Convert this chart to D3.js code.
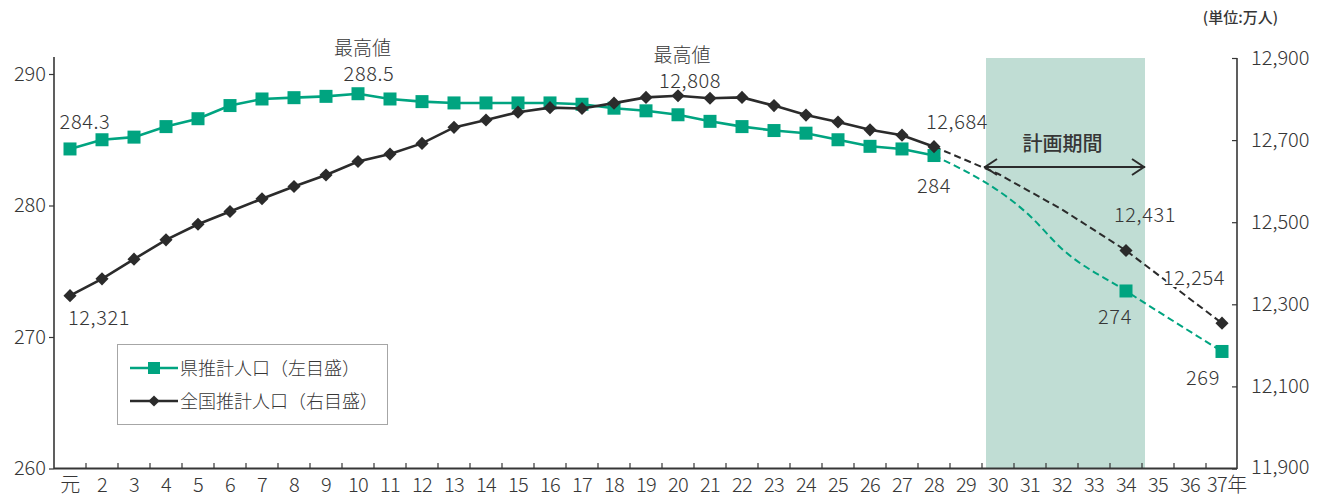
<!DOCTYPE html>
<html><head><meta charset="utf-8">
<script src="https://cdn.jsdelivr.net/npm/d3@7"></script>
<style>
body{margin:0;background:#fff;}
svg{display:block;font-family:"Noto Sans CJK JP","Noto Sans",sans-serif;font-weight:300;}
</style></head><body>
<svg id="chart" width="1335" height="497"></svg>
<script>
// ---- data ----
const categories = ["元","2","3","4","5","6","7","8","9","10","11","12","13","14","15","16","17","18","19","20","21","22","23","24","25","26","27","28","29","30","31","32","33","34","35","36","37"];
const actualCats = categories.slice(0, 28);
const prefActual = [284.3,285.0,285.2,286.0,286.6,287.6,288.1,288.2,288.3,288.5,288.1,287.9,287.8,287.8,287.8,287.8,287.7,287.4,287.2,286.9,286.4,286.0,285.7,285.5,285.0,284.5,284.3,283.8];
const natActual = [12321,12362,12410,12457,12495,12526,12557,12587,12615,12648,12666,12692,12731,12749,12768,12779,12777,12790,12804,12808,12802,12804,12784,12761,12744,12725,12712,12684];
const prefProjCats = ["28","31","32","34","37"];
const prefProj = [283.8,279.2,276.7,273.5,268.9];
const natProjCats = ["28","30","32","34","37"];
const natProj = [12684,12618,12531,12431,12254];
const projMarkerCats = ["34","37"];
const leftTicks = [260,270,280,290];
const rightTicks = [11900,12100,12300,12500,12700,12900];
const planStart = "30", planEnd = "34";
const seriesNames = ["県推計人口（左目盛）","全国推計人口（右目盛）"];

// ---- setup ----
const GREEN = "#00a480", BLACK = "#2b2b2b", SHADE = "#c0ddd4", TXT = "#363636";
const svg = d3.select("#chart");
const x = d3.scaleBand().domain(categories).range([54, 1238]).padding(0);
const bw = x.bandwidth();
const cx = c => x(c) + bw / 2;
const yL = d3.scaleLinear().domain([260, 290]).range([468.5, 74]);
const yR = d3.scaleLinear().domain([11900, 12900]).range([468.5, 58]);

// planning period shade
const shadeX0 = x(planStart) + 4;
const shadeX1 = x(planEnd) + bw + 3;
svg.append("rect").attr("x", shadeX0).attr("y", yR(12900)).attr("width", shadeX1 - shadeX0)
  .attr("height", yR(11900) - yR(12900)).attr("fill", SHADE);

// axes
const gL = svg.append("g").attr("transform", "translate(54,0)")
  .call(d3.axisLeft(yL).tickValues(leftTicks).tickSize(5).tickPadding(3).tickFormat(d3.format("d")));
gL.select(".domain").remove();
gL.selectAll(".tick line").attr("stroke", TXT).attr("stroke-width", 1.2);
gL.selectAll(".tick text").attr("font-size", 20).attr("fill", TXT).attr("font-family", "'Noto Sans CJK JP'");
svg.append("line").attr("x1", 54).attr("x2", 54).attr("y1", 57).attr("y2", 469).attr("stroke", TXT).attr("stroke-width", 1.6);

const gR = svg.append("g").attr("transform", "translate(1237,0)")
  .call(d3.axisRight(yR).tickValues(rightTicks).tickSizeInner(-5).tickSizeOuter(0).tickPadding(14).tickFormat(d3.format(",")));
gR.select(".domain").remove();
gR.selectAll(".tick line").attr("stroke", TXT).attr("stroke-width", 1.2);
gR.selectAll(".tick text").attr("font-size", 20).attr("fill", TXT).attr("font-family", "'Noto Sans CJK JP'");
gR.selectAll(".tick").filter(d => d === 11900).select("text").attr("dy", "0.25em");
svg.append("line").attr("x1", 1237).attr("x2", 1237).attr("y1", 58).attr("y2", 469).attr("stroke", TXT).attr("stroke-width", 1.6);

// x axis
svg.append("line").attr("x1", 54).attr("x2", 1237).attr("y1", 468.5).attr("y2", 468.5).attr("stroke", TXT).attr("stroke-width", 2);
svg.append("g").selectAll("line").data(categories.slice(1)).join("line")
  .attr("x1", d => x(d)).attr("x2", d => x(d)).attr("y1", 468).attr("y2", 463)
  .attr("stroke", TXT).attr("stroke-width", 1.2);
svg.append("g").selectAll("text").data(categories).join("text")
  .attr("x", (d, i) => i === categories.length - 1 ? cx(d) - 15 : cx(d))
  .attr("y", 492).attr("text-anchor", (d, i) => i === categories.length - 1 ? "start" : "middle")
  .attr("font-size", 20).attr("letter-spacing", -0.6).attr("fill", TXT)
  .text((d, i) => i === categories.length - 1 ? d + "年" : d);

// lines
const prefData = actualCats.map((c, i) => ({c, v: prefActual[i]}));
const natData = actualCats.map((c, i) => ({c, v: natActual[i]}));
const prefPD = prefProjCats.map((c, i) => ({c, v: prefProj[i]}));
const natPD = natProjCats.map((c, i) => ({c, v: natProj[i]}));

const lineL = d3.line().x(d => cx(d.c)).y(d => yL(d.v));
const lineLs = d3.line().x(d => cx(d.c)).y(d => yL(d.v)).curve(d3.curveMonotoneX);
const lineR = d3.line().x(d => cx(d.c)).y(d => yR(d.v));

svg.append("path").attr("d", lineLs(prefPD)).attr("fill", "none").attr("stroke", GREEN).attr("stroke-width", 2).attr("stroke-dasharray", "7,4");
svg.append("path").attr("d", lineR(natPD)).attr("fill", "none").attr("stroke", BLACK).attr("stroke-width", 2).attr("stroke-dasharray", "7,4");

svg.append("path").attr("d", lineL(prefData)).attr("fill", "none").attr("stroke", GREEN).attr("stroke-width", 2.6);
const sq = 13;
svg.append("g").selectAll("rect").data(prefData.concat(prefPD.filter(d => projMarkerCats.includes(d.c)))).join("rect")
  .attr("x", d => cx(d.c) - sq / 2).attr("y", d => yL(d.v) - sq / 2).attr("width", sq).attr("height", sq).attr("fill", GREEN);

svg.append("path").attr("d", lineR(natData)).attr("fill", "none").attr("stroke", BLACK).attr("stroke-width", 2.6);
const diamond = d3.symbol().type(d3.symbolDiamond2).size(110);
svg.append("g").selectAll("path").data(natData.concat(natPD.filter(d => projMarkerCats.includes(d.c)))).join("path")
  .attr("transform", d => `translate(${cx(d.c)},${yR(d.v)})`)
  .attr("d", diamond).attr("fill", BLACK);

// labels
const fmtN = d3.format(",");
const labels = [
  {t: "284.3", c: "元", v: prefActual[0], s: "L", dx: 15, dy: -20},
  {t: "288.5", c: "10", v: prefActual[9], s: "L", dx: 11, dy: -12.5},
  {t: "最高値", c: "10", v: prefActual[9], s: "L", dx: 4.5, dy: -38.5},
  {t: fmtN(natActual[19]), c: "20", v: natActual[19], s: "R", dx: 12, dy: -7.5},
  {t: "最高値", c: "20", v: natActual[19], s: "R", dx: 4, dy: -34},
  {t: fmtN(natActual[27]), c: "28", v: natActual[27], s: "R", dx: 23, dy: -18},
  {t: "284", c: "28", v: prefActual[27], s: "L", dx: 0, dy: 37},
  {t: fmtN(natProj[3]), c: "34", v: natProj[3], s: "R", dx: 19, dy: -29},
  {t: "274", c: "34", v: prefProj[3], s: "L", dx: -11, dy: 33},
  {t: fmtN(natProj[4]), c: "37", v: natProj[4], s: "R", dx: -28, dy: -38, halo: true},
  {t: "269", c: "37", v: prefProj[4], s: "L", dx: -19, dy: 34},
  {t: fmtN(natActual[0]), c: "元", v: natActual[0], s: "R", dx: 29, dy: 29}
];
svg.append("g").selectAll("text").data(labels).join("text")
  .attr("x", d => cx(d.c) + d.dx)
  .attr("y", d => (d.s === "L" ? yL(d.v) : yR(d.v)) + d.dy)
  .attr("text-anchor", "middle").attr("font-size", d => /[0-9]/.test(d.t) ? 20 : 19)
  .attr("letter-spacing", d => /[0-9]/.test(d.t) ? 0.6 : 0)
  .attr("fill", TXT)
  .attr("stroke", d => d.halo ? "#fff" : "none").attr("stroke-width", 4).attr("paint-order", "stroke")
  .text(d => d.t);

// planning period annotation
const ay = 167;
const ax0 = shadeX0 - 2, ax1 = shadeX1;
svg.append("line").attr("x1", ax0).attr("x2", ax1).attr("y1", ay).attr("y2", ay).attr("stroke", BLACK).attr("stroke-width", 2);
svg.append("path").attr("d", `M${ax0 + 13},${ay - 8} L${ax0 + 1},${ay} L${ax0 + 13},${ay + 8}`).attr("fill", "none").attr("stroke", BLACK).attr("stroke-width", 2);
svg.append("path").attr("d", `M${ax1 - 13},${ay - 8} L${ax1 - 1},${ay} L${ax1 - 13},${ay + 8}`).attr("fill", "none").attr("stroke", BLACK).attr("stroke-width", 2);
svg.append("text").attr("x", (ax0 + ax1) / 2 - 2).attr("y", 151).attr("text-anchor", "middle")
  .attr("font-size", 20).attr("font-weight", 500).attr("fill", TXT).text("計画期間");

// unit
svg.append("text").attr("x", 1278).attr("y", 23).attr("text-anchor", "end").attr("font-size", 15).attr("font-weight", 500)
  .attr("fill", TXT).text("(単位:万人)");

// legend
const lg = svg.append("g");
lg.append("rect").attr("x", 117.5).attr("y", 344.5).attr("width", 270).attr("height", 80).attr("fill", "#fff").attr("stroke", "#a6a6a6").attr("stroke-width", 1);
const ly = [368, 401];
lg.append("line").attr("x1", 130).attr("x2", 178).attr("y1", ly[0]).attr("y2", ly[0]).attr("stroke", GREEN).attr("stroke-width", 2.6);
lg.append("rect").attr("x", 148).attr("y", ly[0] - 6).attr("width", 12).attr("height", 12).attr("fill", GREEN);
lg.append("line").attr("x1", 130).attr("x2", 178).attr("y1", ly[1]).attr("y2", ly[1]).attr("stroke", BLACK).attr("stroke-width", 2.6);
lg.append("path").attr("transform", `translate(154,${ly[1]})`).attr("d", d3.symbol().type(d3.symbolDiamond2).size(80)).attr("fill", BLACK);
lg.selectAll("text.lt").data(seriesNames).join("text").attr("class", "lt")
  .attr("x", 180).attr("y", (d, i) => ly[i] + 6.5).attr("font-size", 18).attr("fill", TXT).text(d => d);
</script>
</body></html>
